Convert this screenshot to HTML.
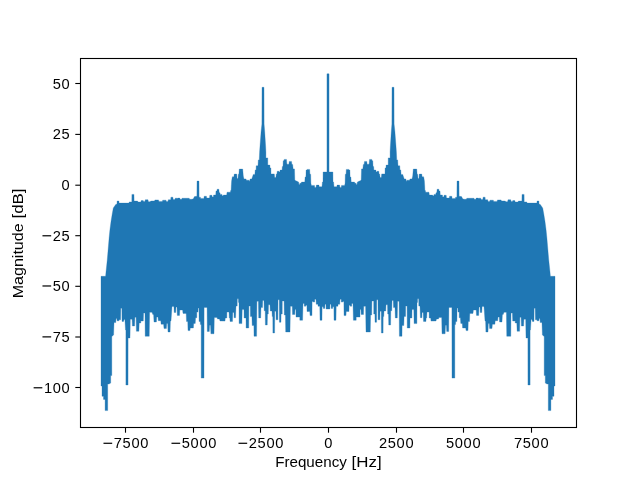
<!DOCTYPE html>
<html><head><meta charset="utf-8"><title>Spectrum</title>
<style>
html,body{margin:0;padding:0;background:#fff;}
body{width:640px;height:480px;overflow:hidden;}
svg{display:block;}
.t{font-family:"Liberation Sans",sans-serif;font-size:14.1px;fill:#000;}
</style></head>
<body>
<svg width="640" height="480" viewBox="0 0 640 480">
<rect x="0" y="0" width="640" height="480" fill="#fff"/>
<path d="M101.00,276.30 L105.60,276.30 L106.00,272.00 L107.25,260.00 L109.10,238.00 L109.90,230.00 L111.00,221.50 L112.25,213.75 L113.30,208.00 L115.75,204.40 L117.00,204.00 L117.10,201.00 L118.90,201.00 L119.10,203.10 L128.90,203.10 L129.30,201.90 L131.80,201.90 L131.90,194.40 L134.00,194.40 L134.10,201.10 L137.60,201.10 L138.00,202.00 L140.80,202.00 L141.20,200.60 L143.20,200.60 L143.60,201.40 L144.90,201.40 L145.30,199.70 L148.00,199.70 L148.40,201.75 L150.30,201.75 L150.60,201.10 L152.00,200.90 L154.50,200.90 L154.90,199.90 L158.50,199.90 L158.90,201.40 L162.30,201.40 L162.70,200.20 L166.00,200.20 L166.40,201.40 L168.00,201.40 L168.30,199.70 L170.70,199.70 L170.90,197.20 L172.90,197.20 L173.20,199.50 L174.90,199.50 L175.20,198.20 L177.20,198.20 L177.45,199.00 L177.70,198.10 L179.80,198.10 L180.10,199.25 L181.70,199.25 L182.00,198.25 L189.20,198.25 L189.60,199.25 L192.00,199.25 L193.30,198.75 L194.50,196.60 L196.90,196.25 L197.00,181.10 L199.00,181.10 L199.10,197.20 L200.40,197.20 L200.60,198.40 L203.90,198.40 L204.20,196.25 L206.40,196.25 L206.70,198.10 L209.50,198.10 L209.80,195.30 L212.00,195.30 L212.20,196.90 L213.30,196.90 L213.60,195.00 L215.75,195.00 L216.00,190.90 L217.00,190.90 L217.10,189.25 L218.90,189.25 L219.20,192.80 L220.00,192.80 L220.20,194.40 L222.00,194.40 L222.40,195.90 L223.10,195.90 L223.30,195.10 L226.70,195.10 L227.00,192.20 L230.40,192.20 L230.60,190.60 L231.10,190.60 L231.30,186.00 L231.60,181.00 L232.10,178.00 L232.40,176.75 L233.90,176.75 L234.25,174.10 L236.75,174.10 L237.10,178.60 L238.00,178.60 L238.30,174.25 L238.90,174.25 L239.25,169.10 L242.70,169.10 L243.30,176.10 L244.00,178.90 L246.00,178.90 L246.40,180.20 L248.90,180.20 L249.40,181.40 L250.20,178.90 L251.75,178.90 L252.50,176.75 L253.30,174.40 L254.90,174.40 L255.20,169.90 L256.10,169.90 L256.20,165.80 L258.00,165.80 L258.30,159.90 L259.25,159.90 L259.60,152.00 L259.90,147.50 L261.10,131.50 L261.90,124.00 L262.00,87.30 L264.00,87.30 L264.10,124.00 L264.70,131.50 L265.70,147.50 L265.90,152.00 L265.90,157.90 L267.75,157.90 L267.80,165.10 L269.90,165.10 L270.00,167.90 L270.90,167.90 L271.00,173.90 L274.30,173.90 L274.70,177.60 L275.90,177.60 L276.30,173.90 L277.00,173.90 L277.20,171.25 L279.00,171.25 L279.30,172.00 L279.90,172.00 L280.10,170.10 L282.10,170.10 L282.30,166.40 L283.00,166.40 L283.20,160.75 L284.00,160.75 L284.20,159.40 L286.50,159.40 L286.90,164.20 L288.90,164.20 L289.20,161.40 L291.50,161.40 L291.90,164.50 L292.70,164.50 L292.90,166.70 L293.20,168.90 L294.50,168.90 L294.80,180.10 L295.30,180.40 L298.60,182.00 L299.00,184.80 L299.50,184.80 L299.90,183.25 L301.20,183.25 L301.50,182.10 L304.80,182.10 L305.10,177.00 L305.90,177.00 L306.10,170.10 L306.90,170.10 L307.10,169.40 L309.70,169.40 L309.90,174.20 L310.70,174.20 L310.90,183.25 L311.40,185.40 L314.50,185.40 L314.80,187.60 L316.00,187.60 L316.40,185.10 L318.90,185.10 L319.20,186.70 L322.00,186.70 L322.40,182.00 L323.00,182.00 L323.10,172.00 L326.95,172.00 L326.95,73.80 L328.00,73.80 L329.05,73.80 L329.05,172.00 L332.90,172.00 L333.00,182.00 L333.60,182.00 L334.00,186.70 L336.80,186.70 L337.10,185.10 L339.60,185.10 L340.00,187.60 L341.20,187.60 L341.50,185.40 L344.60,185.40 L345.10,183.25 L345.30,174.20 L346.10,174.20 L346.30,169.40 L348.90,169.40 L349.10,170.10 L349.90,170.10 L350.10,177.00 L350.90,177.00 L351.20,182.10 L354.50,182.10 L354.80,183.25 L356.10,183.25 L356.50,184.80 L357.00,184.80 L357.40,182.00 L360.70,180.40 L361.20,180.10 L361.50,168.90 L362.80,168.90 L363.10,166.70 L363.30,164.50 L364.10,164.50 L364.50,161.40 L366.80,161.40 L367.10,164.20 L369.10,164.20 L369.50,159.40 L371.80,159.40 L372.00,160.75 L372.80,160.75 L373.00,166.40 L373.70,166.40 L373.90,170.10 L375.90,170.10 L376.10,172.00 L376.70,172.00 L377.00,171.25 L378.80,171.25 L379.00,173.90 L379.70,173.90 L380.10,177.60 L381.30,177.60 L381.70,173.90 L385.00,173.90 L385.10,167.90 L386.00,167.90 L386.10,165.10 L388.20,165.10 L388.25,157.90 L390.10,157.90 L390.10,152.00 L390.30,147.50 L391.30,131.50 L391.90,124.00 L392.00,87.30 L394.00,87.30 L394.10,124.00 L394.90,131.50 L396.10,147.50 L396.40,152.00 L396.75,159.90 L397.70,159.90 L398.00,165.80 L399.80,165.80 L399.90,169.90 L400.80,169.90 L401.10,174.40 L402.70,174.40 L403.50,176.75 L404.25,178.90 L405.80,178.90 L406.60,181.40 L407.10,180.20 L409.60,180.20 L410.00,178.90 L412.00,178.90 L412.70,176.10 L413.30,169.10 L416.75,169.10 L417.10,174.25 L417.70,174.25 L418.00,178.60 L418.90,178.60 L419.25,174.10 L421.75,174.10 L422.10,176.75 L423.60,176.75 L423.90,178.00 L424.40,181.00 L424.70,186.00 L424.90,190.60 L425.40,190.60 L425.60,192.20 L429.00,192.20 L429.30,195.10 L432.70,195.10 L432.90,195.90 L433.60,195.90 L434.00,194.40 L435.80,194.40 L436.00,192.80 L436.80,192.80 L437.10,189.25 L438.90,189.25 L439.00,190.90 L440.00,190.90 L440.25,195.00 L442.40,195.00 L442.70,196.90 L443.80,196.90 L444.00,195.30 L446.20,195.30 L446.50,198.10 L449.30,198.10 L449.60,196.25 L451.80,196.25 L452.10,198.40 L455.40,198.40 L455.60,197.20 L456.90,197.20 L457.00,181.10 L459.00,181.10 L459.10,196.25 L461.50,196.60 L462.70,198.75 L464.00,199.25 L466.40,199.25 L466.80,198.25 L474.00,198.25 L474.30,199.25 L475.90,199.25 L476.20,198.10 L478.30,198.10 L478.55,199.00 L478.80,198.20 L480.80,198.20 L481.10,199.50 L482.80,199.50 L483.10,197.20 L485.10,197.20 L485.30,199.70 L487.70,199.70 L488.00,201.40 L489.60,201.40 L490.00,200.20 L493.30,200.20 L493.70,201.40 L497.10,201.40 L497.50,199.90 L501.10,199.90 L501.50,200.90 L504.00,200.90 L505.40,201.10 L505.70,201.75 L507.60,201.75 L508.00,199.70 L510.70,199.70 L511.10,201.40 L512.40,201.40 L512.80,200.60 L514.80,200.60 L515.20,202.00 L518.00,202.00 L518.40,201.10 L521.90,201.10 L522.00,194.40 L524.10,194.40 L524.20,201.90 L526.70,201.90 L527.10,203.10 L536.90,203.10 L537.10,201.00 L538.90,201.00 L539.00,204.00 L540.25,204.40 L542.70,208.00 L543.75,213.75 L545.00,221.50 L546.10,230.00 L546.90,238.00 L548.75,260.00 L550.00,272.00 L550.40,276.30 L555.00,276.30 L555.00,386.00 L554.00,386.00 L554.00,396.30 L552.50,396.30 L552.50,399.40 L550.90,399.40 L550.90,410.60 L548.30,410.60 L548.30,384.00 L547.00,384.00 L545.30,383.10 L545.30,375.60 L544.20,375.60 L544.20,336.50 L542.40,335.00 L542.00,323.00 L541.75,322.60 L540.20,322.60 L540.00,318.50 L539.25,318.50 L539.00,320.75 L537.00,320.75 L536.80,319.80 L535.40,319.80 L535.20,308.25 L534.10,308.25 L534.00,321.40 L532.40,321.40 L532.00,319.50 L531.10,319.50 L530.50,330.00 L530.10,330.00 L530.10,385.00 L527.95,385.00 L527.90,338.00 L526.00,338.00 L525.70,319.20 L523.90,319.20 L523.60,326.00 L521.40,326.00 L521.10,317.30 L519.90,317.30 L519.60,331.25 L517.10,331.25 L516.80,323.00 L515.20,323.00 L515.20,321.00 L512.70,321.00 L512.40,313.10 L511.00,313.10 L510.80,336.25 L506.75,336.25 L506.40,312.30 L504.00,312.30 L503.20,314.50 L502.40,314.50 L502.00,322.00 L499.60,322.00 L499.25,317.00 L498.00,317.00 L497.70,320.70 L495.20,320.70 L494.90,324.20 L492.40,324.20 L492.00,328.60 L489.60,328.60 L489.25,323.50 L488.30,323.50 L488.00,332.00 L485.90,332.00 L485.60,321.00 L485.00,321.00 L484.00,306.50 L482.10,306.50 L481.80,312.50 L480.25,312.50 L480.00,307.00 L479.00,307.00 L478.70,315.40 L476.50,315.40 L476.20,310.00 L473.40,310.00 L473.00,313.40 L469.80,313.40 L469.50,321.50 L468.25,321.50 L468.00,330.60 L466.00,330.60 L465.75,328.00 L462.60,328.00 L462.30,323.40 L460.75,323.40 L460.40,317.75 L459.20,317.75 L459.20,312.10 L458.00,312.10 L457.90,308.00 L457.10,308.00 L456.90,321.50 L455.75,321.50 L455.60,324.60 L454.80,324.60 L454.80,378.10 L452.00,378.10 L451.90,307.40 L448.90,307.40 L448.70,331.50 L446.70,331.50 L446.40,325.25 L445.50,325.25 L445.10,333.75 L442.00,333.75 L441.70,317.40 L438.90,317.40 L438.50,319.00 L436.50,319.00 L436.00,321.00 L434.50,321.00 L434.00,321.10 L431.00,321.10 L430.70,318.00 L429.20,318.00 L429.10,312.10 L427.00,312.10 L426.70,318.00 L426.10,318.00 L426.00,321.40 L423.50,321.40 L423.20,312.40 L422.00,312.40 L421.90,317.70 L420.40,317.70 L420.00,306.10 L418.80,306.10 L418.70,298.80 L417.60,298.80 L417.50,302.40 L417.00,302.40 L416.90,323.60 L414.10,323.60 L413.80,309.60 L412.00,309.60 L411.90,318.00 L410.00,318.00 L409.90,328.00 L407.25,328.00 L407.10,306.10 L405.70,306.10 L405.60,316.40 L404.10,316.40 L403.80,325.50 L402.10,325.50 L402.00,336.25 L399.40,336.25 L399.10,301.30 L397.60,301.30 L397.30,317.90 L395.30,317.90 L395.00,307.60 L393.50,307.60 L393.25,300.40 L392.00,300.40 L391.80,310.70 L390.80,310.70 L390.60,325.00 L388.75,325.00 L388.50,314.00 L387.70,314.00 L387.50,304.75 L386.00,304.75 L385.75,311.00 L384.00,311.00 L383.80,316.60 L383.20,316.60 L383.10,333.00 L381.40,333.00 L381.25,311.30 L380.00,311.30 L379.90,319.75 L378.10,319.75 L378.00,299.75 L376.75,299.75 L376.60,322.25 L375.00,322.25 L374.90,314.00 L373.75,314.00 L373.70,301.00 L371.90,301.00 L371.70,315.00 L370.60,315.00 L370.30,332.00 L366.00,332.00 L365.60,306.30 L363.75,306.30 L363.50,314.50 L361.20,314.50 L361.00,309.60 L360.10,309.60 L360.00,317.10 L356.20,317.10 L356.20,320.25 L353.40,320.25 L353.00,303.40 L351.80,303.40 L351.70,306.20 L350.25,306.20 L350.10,305.25 L349.10,305.25 L349.00,311.50 L346.20,311.50 L346.00,315.60 L344.00,315.60 L343.90,301.50 L342.75,301.50 L342.70,302.10 L341.30,302.10 L341.20,299.30 L340.00,299.30 L339.75,304.30 L338.00,304.30 L338.00,306.20 L336.20,306.20 L336.00,320.25 L334.00,320.25 L333.90,306.80 L332.75,306.80 L332.70,308.40 L331.20,308.40 L331.00,304.30 L330.00,304.30 L329.90,309.00 L328.00,309.00 L328.00,309.00 L326.10,309.00 L326.00,304.30 L325.00,304.30 L324.80,308.40 L323.30,308.40 L323.25,306.80 L322.10,306.80 L322.00,320.25 L320.00,320.25 L319.80,306.20 L318.00,306.20 L318.00,304.30 L316.25,304.30 L316.00,299.30 L314.80,299.30 L314.70,302.10 L313.30,302.10 L313.25,301.50 L312.10,301.50 L312.00,315.60 L310.00,315.60 L309.80,311.50 L307.00,311.50 L306.90,305.25 L305.90,305.25 L305.75,306.20 L304.30,306.20 L304.20,303.40 L303.00,303.40 L302.60,320.25 L299.80,320.25 L299.80,317.10 L296.00,317.10 L295.90,309.60 L295.00,309.60 L294.80,314.50 L292.50,314.50 L292.25,306.30 L290.40,306.30 L290.00,332.00 L285.70,332.00 L285.40,315.00 L284.30,315.00 L284.10,301.00 L282.30,301.00 L282.25,314.00 L281.10,314.00 L281.00,322.25 L279.40,322.25 L279.25,299.75 L278.00,299.75 L277.90,319.75 L276.10,319.75 L276.00,311.30 L274.75,311.30 L274.60,333.00 L272.90,333.00 L272.80,316.60 L272.20,316.60 L272.00,311.00 L270.25,311.00 L270.00,304.75 L268.50,304.75 L268.30,314.00 L267.50,314.00 L267.25,325.00 L265.40,325.00 L265.20,310.70 L264.20,310.70 L264.00,300.40 L262.75,300.40 L262.50,307.60 L261.00,307.60 L260.70,317.90 L258.70,317.90 L258.40,301.30 L256.90,301.30 L256.60,336.25 L254.00,336.25 L253.90,325.50 L252.20,325.50 L251.90,316.40 L250.40,316.40 L250.30,306.10 L248.90,306.10 L248.75,328.00 L246.10,328.00 L246.00,318.00 L244.10,318.00 L244.00,309.60 L242.20,309.60 L241.90,323.60 L239.10,323.60 L239.00,302.40 L238.50,302.40 L238.40,298.80 L237.30,298.80 L237.20,306.10 L236.00,306.10 L235.60,317.70 L234.10,317.70 L234.00,312.40 L232.80,312.40 L232.50,321.40 L230.00,321.40 L229.90,318.00 L229.30,318.00 L229.00,312.10 L226.90,312.10 L226.80,318.00 L225.30,318.00 L225.00,321.10 L222.00,321.10 L221.50,321.00 L220.00,321.00 L219.50,319.00 L217.50,319.00 L217.10,317.40 L214.30,317.40 L214.00,333.75 L210.90,333.75 L210.50,325.25 L209.60,325.25 L209.30,331.50 L207.30,331.50 L207.10,307.40 L204.10,307.40 L204.00,378.10 L201.20,378.10 L201.20,324.60 L200.40,324.60 L200.25,321.50 L199.10,321.50 L198.90,308.00 L198.10,308.00 L198.00,312.10 L196.80,312.10 L196.80,317.75 L195.60,317.75 L195.25,323.40 L193.70,323.40 L193.40,328.00 L190.25,328.00 L190.00,330.60 L188.00,330.60 L187.75,321.50 L186.50,321.50 L186.20,313.40 L183.00,313.40 L182.60,310.00 L179.80,310.00 L179.50,315.40 L177.30,315.40 L177.00,307.00 L176.00,307.00 L175.75,312.50 L174.20,312.50 L173.90,306.50 L172.00,306.50 L171.00,321.00 L170.40,321.00 L170.10,332.00 L168.00,332.00 L167.70,323.50 L166.75,323.50 L166.40,328.60 L164.00,328.60 L163.60,324.20 L161.10,324.20 L160.80,320.70 L158.30,320.70 L158.00,317.00 L156.75,317.00 L156.40,322.00 L154.00,322.00 L153.60,314.50 L152.80,314.50 L152.00,312.30 L149.60,312.30 L149.25,336.25 L145.20,336.25 L145.00,313.10 L143.60,313.10 L143.30,321.00 L140.80,321.00 L140.80,323.00 L139.20,323.00 L138.90,331.25 L136.40,331.25 L136.10,317.30 L134.90,317.30 L134.60,326.00 L132.40,326.00 L132.10,319.20 L130.30,319.20 L130.00,338.00 L128.10,338.00 L128.05,385.00 L125.90,385.00 L125.90,330.00 L125.50,330.00 L124.90,319.50 L124.00,319.50 L123.60,321.40 L122.00,321.40 L121.90,308.25 L120.80,308.25 L120.60,319.80 L119.20,319.80 L119.00,320.75 L117.00,320.75 L116.75,318.50 L116.00,318.50 L115.80,322.60 L114.25,322.60 L114.00,323.00 L113.60,335.00 L111.80,336.50 L111.80,375.60 L110.70,375.60 L110.70,383.10 L109.00,384.00 L107.70,384.00 L107.70,410.60 L105.10,410.60 L105.10,399.40 L103.50,399.40 L103.50,396.30 L102.00,396.30 L102.00,386.00 L101.00,386.00Z" fill="#1f77b4" stroke="#1f77b4" stroke-width="0.3" stroke-linejoin="round"/>
<rect x="80.5" y="58.5" width="496" height="369" fill="none" stroke="#000" stroke-width="1.1"/>
<g style="filter:grayscale(1)">
<line x1="125.5" y1="428" x2="125.5" y2="432.7" stroke="#000" stroke-width="1.1"/>
<rect x="103.48" y="442.68" width="8.7" height="1.2" fill="#000"/>
<text class="t" transform="translate(113.65,448.30) scale(1.04,1)" x="0.09 8.58 17.07 25.57" y="0">7500</text>
<line x1="193.5" y1="428" x2="193.5" y2="432.7" stroke="#000" stroke-width="1.1"/>
<rect x="171.48" y="442.68" width="8.7" height="1.2" fill="#000"/>
<text class="t" transform="translate(181.65,448.30) scale(1.04,1)" x="0.09 8.58 17.07 25.57" y="0">5000</text>
<line x1="260.5" y1="428" x2="260.5" y2="432.7" stroke="#000" stroke-width="1.1"/>
<rect x="238.48" y="442.68" width="8.7" height="1.2" fill="#000"/>
<text class="t" transform="translate(248.65,448.30) scale(1.04,1)" x="0.09 8.58 17.07 25.57" y="0">2500</text>
<line x1="328.5" y1="428" x2="328.5" y2="432.7" stroke="#000" stroke-width="1.1"/>
<text class="t" transform="translate(324.08,448.30) scale(1.04,1)" x="0.09" y="0">0</text>
<line x1="396.5" y1="428" x2="396.5" y2="432.7" stroke="#000" stroke-width="1.1"/>
<text class="t" transform="translate(378.83,448.30) scale(1.04,1)" x="0.09 8.58 17.07 25.57" y="0">2500</text>
<line x1="463.5" y1="428" x2="463.5" y2="432.7" stroke="#000" stroke-width="1.1"/>
<text class="t" transform="translate(445.83,448.30) scale(1.04,1)" x="0.09 8.58 17.07 25.57" y="0">5000</text>
<line x1="531.5" y1="428" x2="531.5" y2="432.7" stroke="#000" stroke-width="1.1"/>
<text class="t" transform="translate(513.83,448.30) scale(1.04,1)" x="0.09 8.58 17.07 25.57" y="0">7500</text>
<line x1="75.3" y1="83.5" x2="80" y2="83.5" stroke="#000" stroke-width="1.1"/>
<text class="t" transform="translate(52.63,88.90) scale(1.04,1)" x="0.09 8.58" y="0">50</text>
<line x1="75.3" y1="134.4" x2="80" y2="134.4" stroke="#000" stroke-width="1.1"/>
<text class="t" transform="translate(52.63,138.90) scale(1.04,1)" x="0.09 8.58" y="0">25</text>
<line x1="75.3" y1="185.2" x2="80" y2="185.2" stroke="#000" stroke-width="1.1"/>
<text class="t" transform="translate(61.47,189.90) scale(1.04,1)" x="0.09" y="0">0</text>
<line x1="75.3" y1="235.7" x2="80" y2="235.7" stroke="#000" stroke-width="1.1"/>
<rect x="42.46" y="235.18" width="8.7" height="1.2" fill="#000"/>
<text class="t" transform="translate(52.63,240.80) scale(1.04,1)" x="0.09 8.58" y="0">25</text>
<line x1="75.3" y1="286.3" x2="80" y2="286.3" stroke="#000" stroke-width="1.1"/>
<rect x="42.46" y="285.38" width="8.7" height="1.2" fill="#000"/>
<text class="t" transform="translate(52.63,291.00) scale(1.04,1)" x="0.09 8.58" y="0">50</text>
<line x1="75.3" y1="337.0" x2="80" y2="337.0" stroke="#000" stroke-width="1.1"/>
<rect x="42.46" y="336.28" width="8.7" height="1.2" fill="#000"/>
<text class="t" transform="translate(52.63,341.90) scale(1.04,1)" x="0.09 8.58" y="0">75</text>
<line x1="75.3" y1="387.5" x2="80" y2="387.5" stroke="#000" stroke-width="1.1"/>
<rect x="33.63" y="387.18" width="8.7" height="1.2" fill="#000"/>
<text class="t" transform="translate(43.80,392.80) scale(1.04,1)" x="0.09 8.58 17.07" y="0">100</text>
<text class="t" x="275.20" y="467.1" textLength="71.64" lengthAdjust="spacingAndGlyphs">Frequency</text>
<text class="t" x="351.60" y="467.1" textLength="30.03" lengthAdjust="spacingAndGlyphs">[Hz]</text>
<text class="t" transform="translate(23.0,298.35) rotate(-90)" textLength="75.00" lengthAdjust="spacingAndGlyphs">Magnitude</text>
<text class="t" transform="translate(23.0,218.55) rotate(-90)" textLength="30.10" lengthAdjust="spacingAndGlyphs">[dB]</text>
</g>
</svg>
</body></html>
